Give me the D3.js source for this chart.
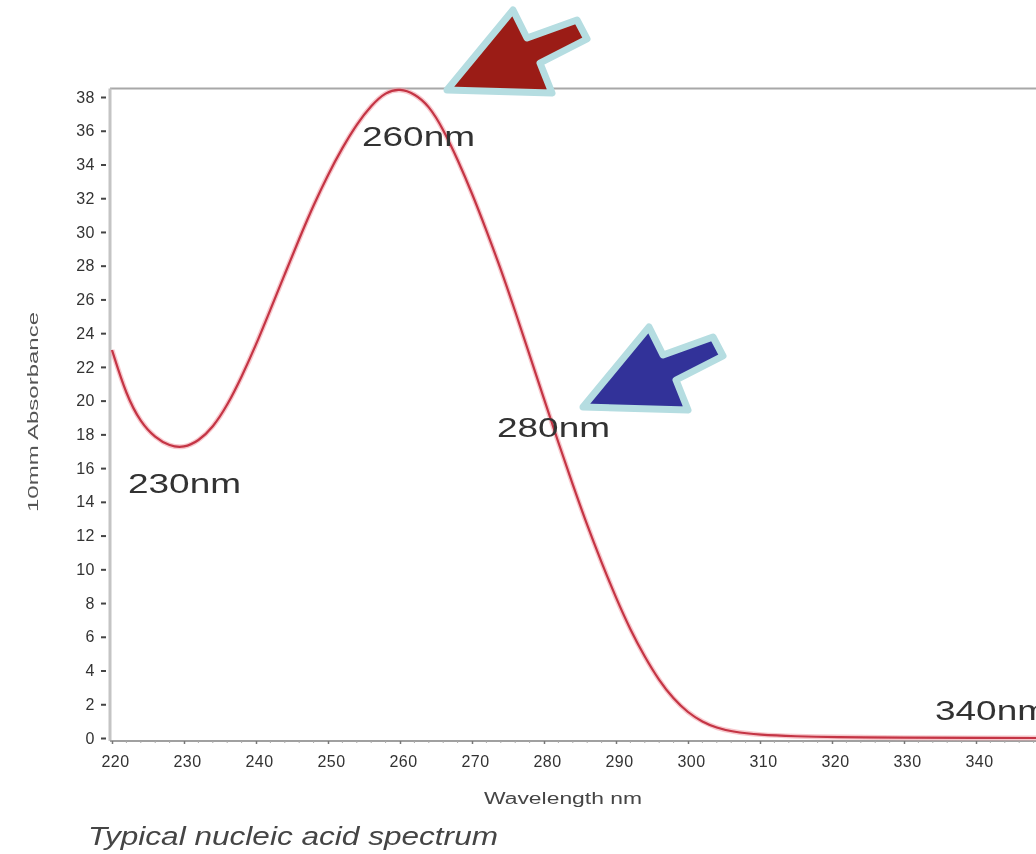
<!DOCTYPE html>
<html>
<head>
<meta charset="utf-8">
<script src="https://cdn.jsdelivr.net/npm/d3@7"></script>
<style>
  body { margin: 0; background: #fff; }
  svg { display: block; font-family: 'Liberation Sans', Arial, sans-serif; }
</style>
</head>
<body>
<script>
// spectrum (wavelength nm, 10mm absorbance)
const wavelengths = [220, 222, 224, 226, 228, 230, 232, 234, 236, 238, 240, 242, 244, 246, 248,
                     250, 252, 254, 256, 258, 260, 262, 264, 266, 268, 270, 272, 274, 276, 278,
                     280, 282, 284, 286, 288, 290, 292, 294, 296, 298, 300, 302, 304, 306, 310,
                     315, 320, 330, 340, 350];
const absorbance  = [23.0, 20.3, 18.7, 17.8, 17.3, 17.2, 17.6, 18.4, 19.7, 21.4, 23.3, 25.4, 27.5, 29.6, 31.6,
                     33.4, 35.0, 36.4, 37.5, 38.3, 38.5, 38.2, 37.5, 36.1, 34.3, 32.3, 30.1, 27.8, 25.3, 22.7,
                     20.1, 17.5, 15.0, 12.6, 10.4, 8.3, 6.4, 4.8, 3.4, 2.3, 1.5, 0.95, 0.6, 0.38, 0.18,
                     0.1, 0.05, 0.02, 0.0, 0.0];
const xTicks = [220, 230, 240, 250, 260, 270, 280, 290, 300, 310, 320, 330, 340];
const yTicks = [0, 2, 4, 6, 8, 10, 12, 14, 16, 18, 20, 22, 24, 26, 28, 30, 32, 34, 36, 38];
const peakLabels = ['260nm', '280nm', '230nm', '340nm'];

const width = 1036, height = 854;

const svg = d3.select('body').append('svg')
  .attr('width', width).attr('height', height);

const defs = svg.append('defs');
defs.append('filter').attr('id', 'soft')
  .append('feGaussianBlur').attr('stdDeviation', 0.6);

const g = svg.append('g').attr('filter', 'url(#soft)');

const xscale = d3.scaleLinear()
  .domain([220, 350])
  .range([112, 112 + 130 * 7.2]);

const yscale = d3.scaleLinear()
  .domain([0, 38])
  .range([738, 97]);

const plotLeft = 110, plotTop = yscale(38.5), plotBottom = 741;

// frame
g.append('line')
  .attr('x1', plotLeft).attr('x2', width + 10)
  .attr('y1', plotTop).attr('y2', plotTop)
  .attr('stroke', '#a8a8a8').attr('stroke-width', 2);

// y axis
const yaxis = g.append('g')
  .attr('transform', `translate(${plotLeft - 4}, 0)`)
  .call(d3.axisLeft(yscale).tickValues(yTicks).tickSize(5).tickPadding(6));
yaxis.select('.domain').remove();
yaxis.selectAll('.tick line').attr('stroke', '#444').attr('stroke-width', 2);
yaxis.selectAll('.tick text')
  .attr('fill', '#333').style('font-size', '16px').style('letter-spacing', '0.5px')
  .style('font-family', "'Liberation Sans', Arial, sans-serif");

g.append('line')
  .attr('x1', plotLeft).attr('x2', plotLeft)
  .attr('y1', plotTop).attr('y2', plotBottom)
  .attr('stroke', '#c4c4c4').attr('stroke-width', 3);

// x axis
const xaxis = g.append('g')
  .attr('transform', `translate(0, ${plotBottom})`)
  .call(d3.axisBottom(xscale).tickValues(xTicks).tickSize(3).tickPadding(12));
xaxis.select('.domain')
  .attr('d', `M${plotLeft},0H${width + 10}`)
  .attr('stroke', '#a0a0a0').attr('stroke-width', 2);
xaxis.selectAll('.tick line').attr('stroke', '#777').attr('stroke-width', 1.5);
xaxis.selectAll('.tick text')
  .attr('fill', '#333').attr('dx', 3)
  .style('font-size', '16px').style('letter-spacing', '0.5px')
  .style('font-family', "'Liberation Sans', Arial, sans-serif");

// minor ticks along the bottom
g.append('g').selectAll('line')
  .data(d3.range(222, 350, 2).filter(v => v % 10 !== 0))
  .enter().append('line')
  .attr('x1', d => xscale(d)).attr('x2', d => xscale(d))
  .attr('y1', plotBottom).attr('y2', plotBottom + 2)
  .attr('stroke', '#aaa').attr('stroke-width', 1);

// axis titles
g.append('text')
  .attr('transform', `translate(38, 412) rotate(-90)`)
  .attr('text-anchor', 'middle')
  .attr('fill', '#555')
  .attr('textLength', 200).attr('lengthAdjust', 'spacingAndGlyphs')
  .style('font-size', '15px')
  .text('10mm Absorbance');

g.append('text')
  .attr('x', 484).attr('y', 804)
  .attr('fill', '#444')
  .attr('textLength', 158).attr('lengthAdjust', 'spacingAndGlyphs')
  .style('font-size', '16px')
  .text('Wavelength nm');

g.append('text')
  .attr('x', 88).attr('y', 845)
  .attr('fill', '#444')
  .attr('textLength', 410).attr('lengthAdjust', 'spacingAndGlyphs')
  .style('font-size', '25px').style('font-style', 'italic')
  .text('Typical nucleic acid spectrum');

// spectrum
const points = wavelengths.map((w, i) => [w, absorbance[i]]);
const line = d3.line()
  .x(d => xscale(d[0]))
  .y(d => yscale(d[1]))
  .curve(d3.curveBasis);

g.append('path').datum(points)
  .attr('d', line).attr('fill', 'none')
  .attr('stroke', '#f2a3ab').attr('stroke-width', 5).attr('opacity', 0.6);
g.append('path').datum(points)
  .attr('d', line).attr('fill', 'none')
  .attr('stroke', '#c43444').attr('stroke-width', 2.2);

// peak labels
const labelPos = [[362, 146], [497, 437], [128, 493], [935, 720]];
g.selectAll('.peak')
  .data(peakLabels)
  .enter().append('text')
  .attr('class', 'peak')
  .attr('x', (d, i) => labelPos[i][0])
  .attr('y', (d, i) => labelPos[i][1])
  .attr('fill', '#333')
  .attr('textLength', 113).attr('lengthAdjust', 'spacingAndGlyphs')
  .style('font-size', '27px')
  .text(d => d);

// arrows: shape relative to the tip
const arrowShape = [[0, 0], [66, -80], [80, -52], [130, -70], [140, -51], [93, -27], [105, 3]];
const arrows = [
  { tip: [447, 90], fill: '#9b1f16' },
  { tip: [583, 407], fill: '#333399' }
];
g.selectAll('.arrow')
  .data(arrows)
  .enter().append('path')
  .attr('class', 'arrow')
  .attr('d', a => 'M' + arrowShape.map(p => [a.tip[0] + p[0], a.tip[1] + p[1]].join(',')).join('L') + 'Z')
  .attr('fill', a => a.fill)
  .attr('stroke', '#b5dde1').attr('stroke-width', 7)
  .attr('stroke-linejoin', 'round');
</script>
</body>
</html>
